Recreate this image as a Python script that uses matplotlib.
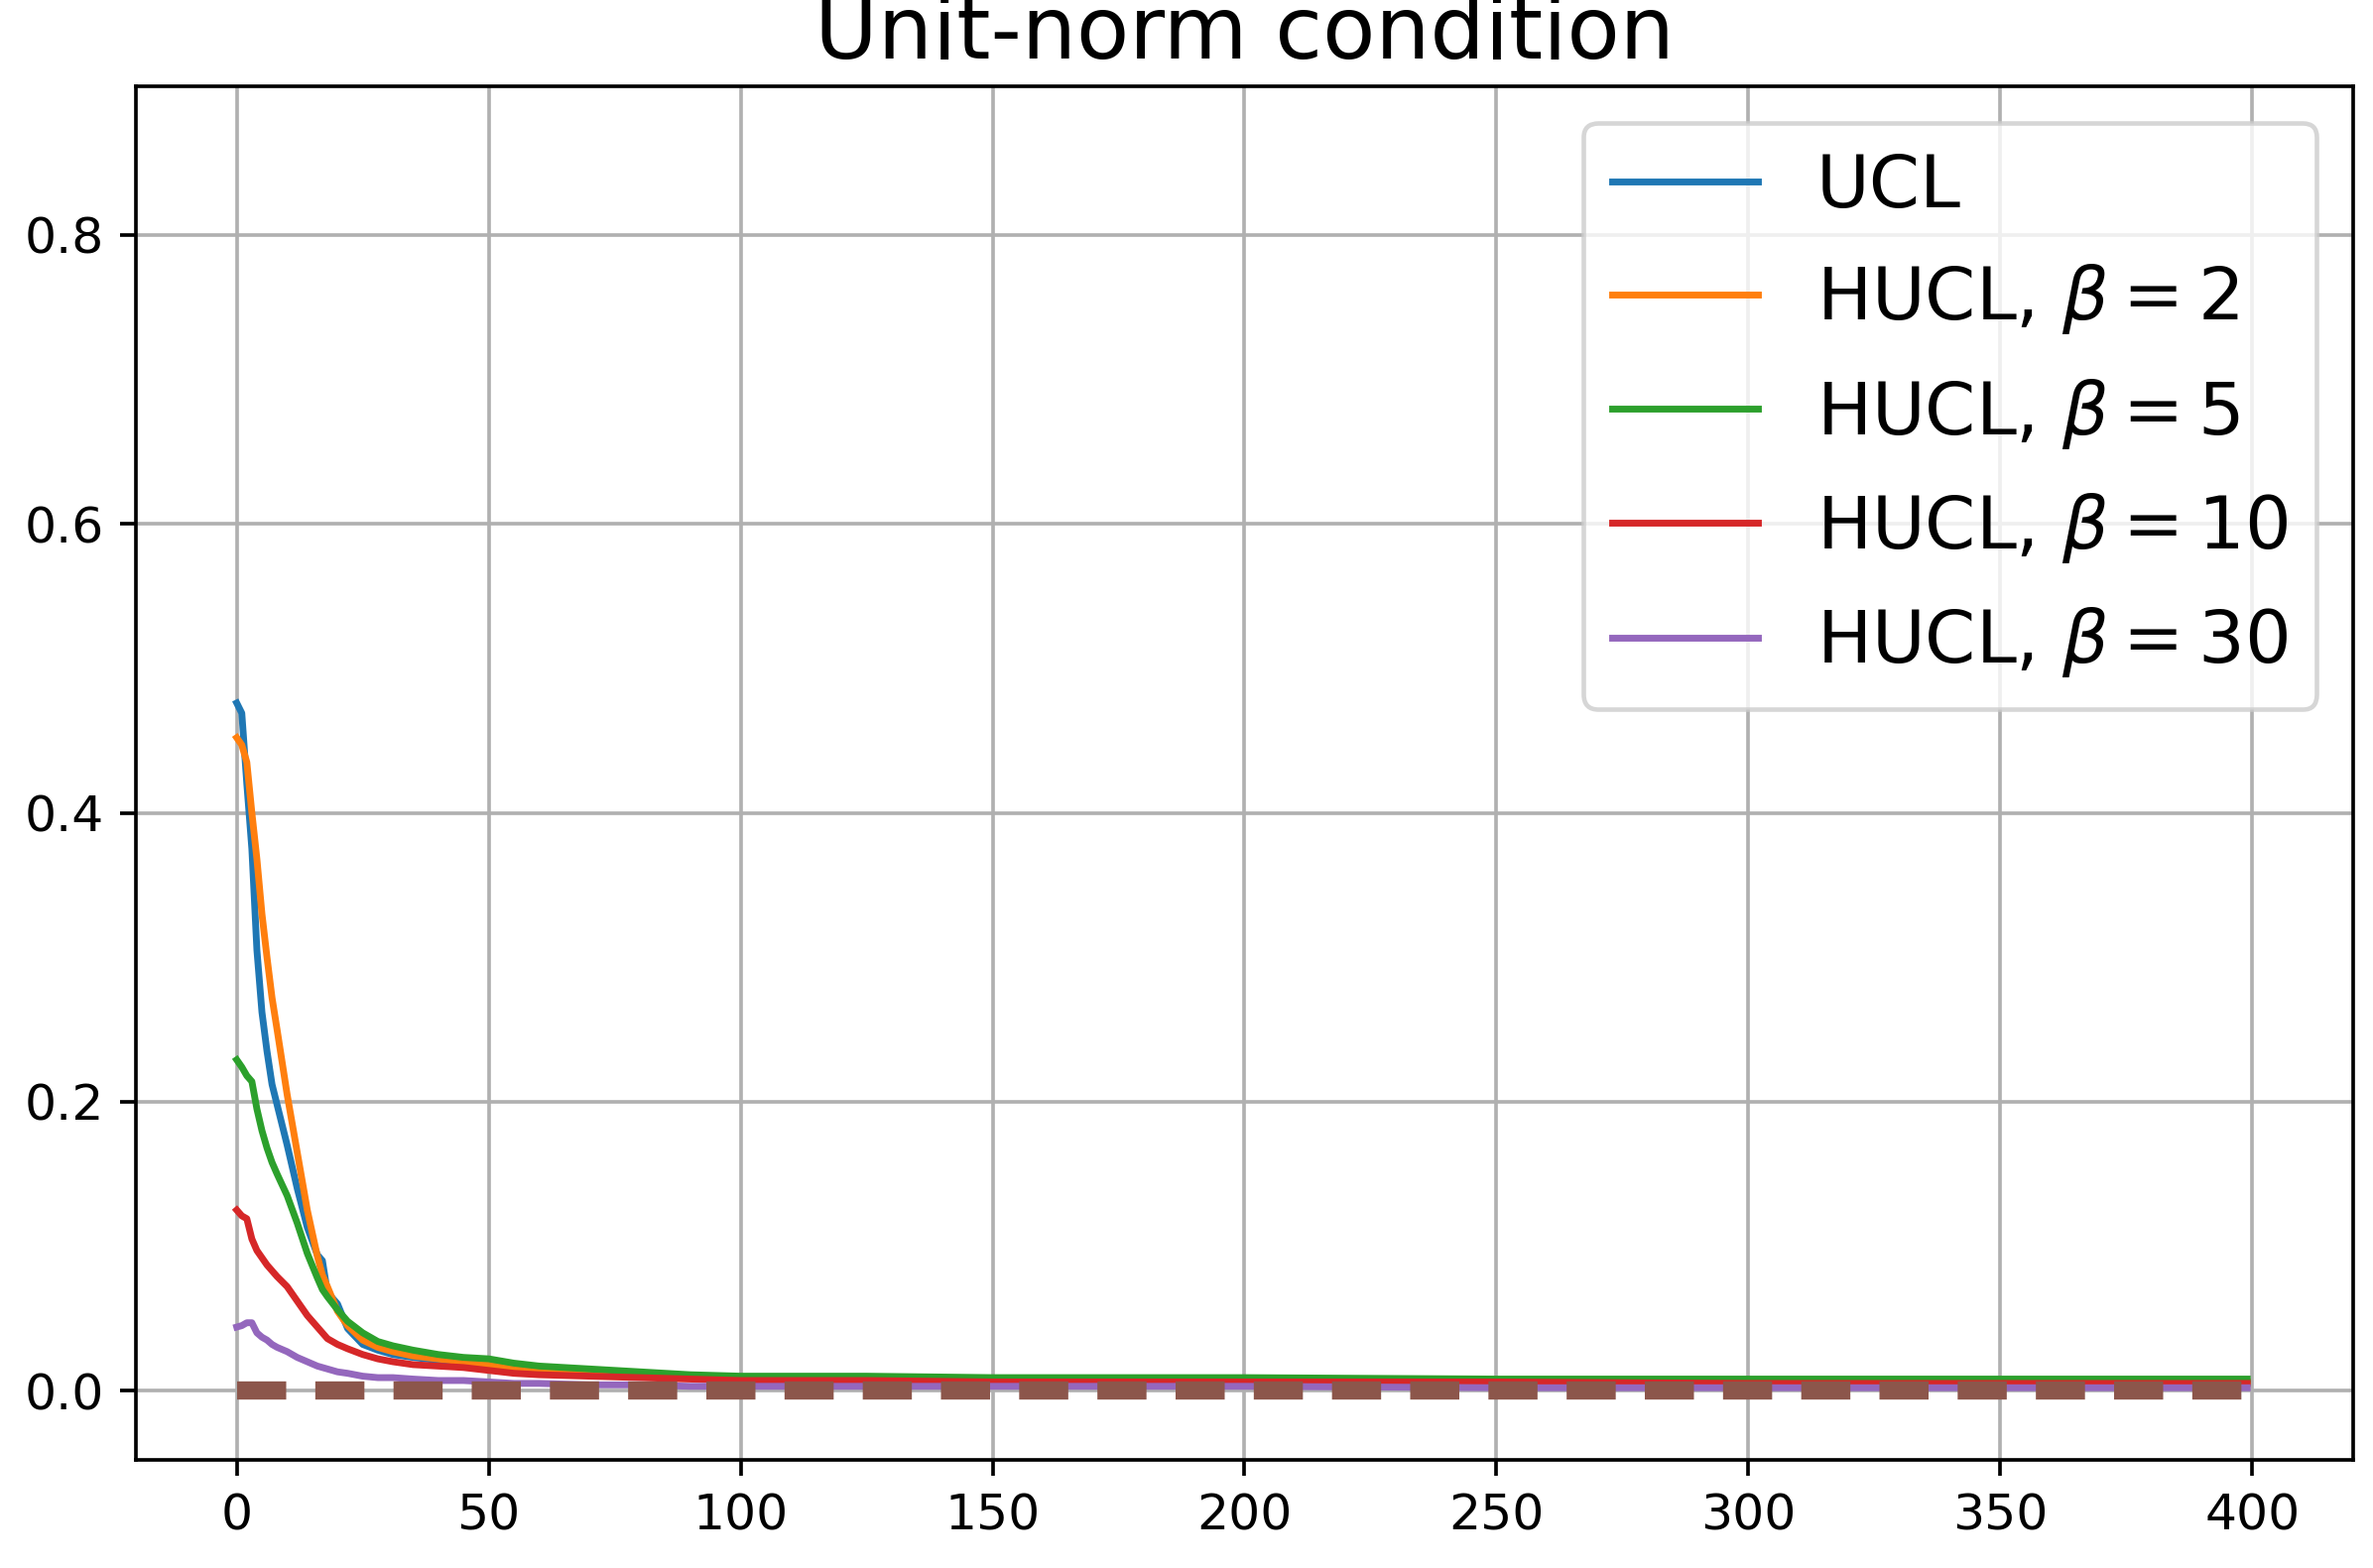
import matplotlib
matplotlib.use("Agg")
import matplotlib.pyplot as plt

epochs = [0, 1, 2, 3, 4, 5, 6, 7, 8, 10, 12, 14, 16, 17, 18, 20, 22, 25, 28, 31,
          35, 40, 45, 50, 55, 60, 70, 80, 90, 100, 125, 150, 175, 200, 250, 300, 350, 399]

ucl = [0.476, 0.469, 0.420, 0.375, 0.305, 0.262, 0.235, 0.212, 0.198, 0.170, 0.140, 0.113,
       0.094, 0.090, 0.068, 0.060, 0.043, 0.032, 0.028, 0.025, 0.023, 0.021, 0.019, 0.017,
       0.015, 0.014, 0.012, 0.010, 0.009, 0.008, 0.007, 0.007, 0.006, 0.006, 0.006, 0.006,
       0.006, 0.006]
hucl_2 = [0.452, 0.447, 0.435, 0.400, 0.368, 0.330, 0.300, 0.272, 0.250, 0.205, 0.165, 0.125,
          0.093, 0.080, 0.072, 0.055, 0.045, 0.035, 0.030, 0.027, 0.024, 0.022, 0.020, 0.018,
          0.016, 0.014, 0.012, 0.010, 0.009, 0.008, 0.007, 0.007, 0.007, 0.006, 0.006, 0.006,
          0.006, 0.006]
hucl_5 = [0.229, 0.224, 0.218, 0.214, 0.195, 0.180, 0.168, 0.158, 0.150, 0.135, 0.116, 0.095,
          0.078, 0.070, 0.065, 0.056, 0.048, 0.040, 0.034, 0.031, 0.028, 0.025, 0.023, 0.022,
          0.019, 0.017, 0.015, 0.013, 0.011, 0.010, 0.010, 0.009, 0.009, 0.009, 0.008, 0.008,
          0.008, 0.008]
hucl_10 = [0.125, 0.121, 0.119, 0.105, 0.097, 0.092, 0.087, 0.083, 0.079, 0.072, 0.062, 0.052,
           0.044, 0.040, 0.036, 0.032, 0.029, 0.025, 0.022, 0.020, 0.018, 0.017, 0.016, 0.014,
           0.012, 0.011, 0.010, 0.009, 0.008, 0.007, 0.007, 0.006, 0.006, 0.006, 0.006, 0.005,
           0.005, 0.005]
hucl_30 = [0.044, 0.045, 0.047, 0.047, 0.040, 0.037, 0.035, 0.032, 0.030, 0.027, 0.023, 0.020,
           0.017, 0.016, 0.015, 0.013, 0.012, 0.010, 0.009, 0.009, 0.008, 0.007, 0.007, 0.006,
           0.005, 0.005, 0.004, 0.004, 0.003, 0.003, 0.003, 0.003, 0.003, 0.003, 0.002, 0.002,
           0.002, 0.002]

series = [
    ("UCL", ucl),
    (r"HUCL, $\beta=2$", hucl_2),
    (r"HUCL, $\beta=5$", hucl_5),
    (r"HUCL, $\beta=10$", hucl_10),
    (r"HUCL, $\beta=30$", hucl_30),
]
target_x = [0, 399]
target_y = [0.0, 0.0]

fig = plt.figure(figsize=(2392 / 330, 1581 / 330), dpi=330)
ax = fig.add_axes([0.0573, 0.0689, 0.9343, 0.8761])

for label, vals in series:
    ax.plot(epochs, vals, label=label, linewidth=1.5)
ax.plot(target_x, target_y, color="C5", linewidth=4, dashes=(2.7, 1.6))

ax.set_xlim(-20, 420)
ax.set_ylim(-0.048, 0.903)
ax.set_yticks([0.0, 0.2, 0.4, 0.6, 0.8])
ax.tick_params(labelsize=11)
ax.grid(True)
# the reference is cropped at the top, so the title is partly cut off there too
ax.set_title("Unit-norm condition", fontsize=19)
ax.legend(loc="upper right", fontsize=16, labelspacing=0.55)

fig.savefig("out.png", dpi=330)
